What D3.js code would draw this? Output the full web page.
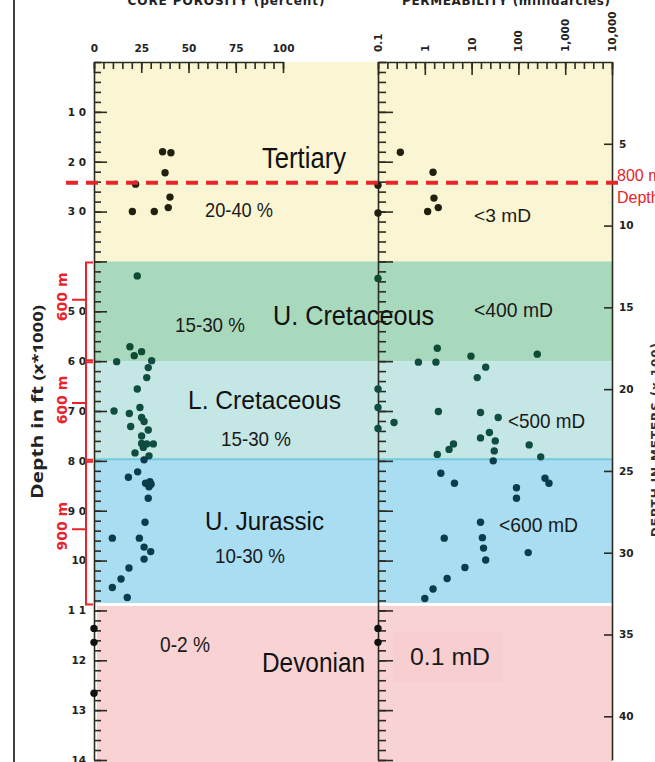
<!DOCTYPE html>
<html>
<head>
<meta charset="utf-8">
<script src="https://cdn.jsdelivr.net/npm/d3@7"></script>
<style>
html, body { margin: 0; padding: 0; background: #fff; }
svg { display: block; }
</style>
</head>
<body>
<svg width="655" height="762"></svg>
<script>
// formations, depth in ft x 1000
const formations = ["Tertiary", "U. Cretaceous", "L. Cretaceous", "U. Jurassic", "Devonian"];
const formationTop = [0, 4.0, 6.0, 7.97, 10.91];
const formationBase = [4.0, 6.0, 7.97, 10.85, 14.1];
const porosityRange = ["20-40 %", "15-30 %", "15-30 %", "10-30 %", "0-2 %"];
const permRange = ["<3 mD", "<400 mD", "<500 mD", "<600 mD", "0.1 mD"];

// core porosity (percent) vs depth (ft x 1000)
const porosity = [
  [36.3, 1.80], [40.7, 1.82], [37.6, 2.22], [22.0, 2.45], [40.2, 2.71], [39.3, 2.92], [20.3, 3.00], [31.9, 3.00],
  [22.9, 4.29], [19.0, 5.71], [25.2, 5.81], [21.3, 5.89], [12.0, 6.01], [30.5, 5.99], [28.7, 6.13], [27.9, 6.33],
  [22.9, 6.56], [10.6, 7.00], [18.7, 7.05], [24.3, 6.93], [25.2, 7.13], [26.5, 7.21], [19.4, 7.31], [28.7, 7.38],
  [25.2, 7.50], [25.2, 7.65], [27.9, 7.66], [31.4, 7.66], [26.1, 7.73], [21.7, 7.84], [29.1, 7.90], [26.5, 7.98],
  [23.1, 8.22], [18.2, 8.33], [27.3, 8.45], [29.6, 8.42], [29.1, 8.52], [30.2, 8.47], [28.7, 8.75], [27.0, 9.23],
  [9.7, 9.55], [24.0, 9.55], [26.5, 9.73], [30.0, 9.82], [26.5, 9.97], [18.5, 10.15], [14.3, 10.37], [9.7, 10.54],
  [17.6, 10.74],
  [0, 11.36], [0, 11.64], [0, 12.66]
];

// permeability (millidarcies) vs depth (ft x 1000)
const permeability = [
  [0.3, 1.81], [1.5, 2.21], [0.1, 2.47], [1.57, 2.73], [1.94, 2.92], [1.15, 3.00], [0.1, 3.03],
  [0.1, 4.34], [1.85, 5.74], [9.7, 5.90], [253, 5.86], [0.73, 6.02], [1.73, 6.02], [20, 6.12], [13.2, 6.33],
  [0.1, 6.56], [0.1, 6.93], [0.1, 7.35], [0.22, 7.23], [1.95, 7.01], [15.5, 7.03], [37, 7.13], [24, 7.43],
  [15.5, 7.54], [32, 7.60], [4.1, 7.66], [3.3, 7.77], [170, 7.68], [30.5, 7.80], [1.85, 7.87], [29, 8.00], [300, 7.92],
  [2.2, 8.25], [4.3, 8.45], [370, 8.35], [450, 8.45], [91, 8.54], [91, 8.75], [15.5, 9.23], [2.6, 9.55],
  [17, 9.54], [18, 9.75], [162, 9.84], [20, 9.99], [7.2, 10.14], [3.0, 10.36], [1.5, 10.57], [1.0, 10.76],
  [0.1, 11.36], [0.1, 11.64]
];

const depthTicks = [1, 2, 3, 4, 5, 6, 7, 8, 9, 10, 11, 12, 13, 14];
const depthTickLabels = ["1 0", "2 0", "3 0", "", "5 0", "6 0", "7 0", "8 0", "9 0", "10", "1 1", "12", "13", "14"];
const porosityTicks = [0, 25, 50, 75, 100];
const permTicks = [0.1, 1, 10, 100, 1000, 10000];
const permTickLabels = ["0.1", "1", "10", "100", "1,000", "10,000"];
const meterTicks = [5, 10, 15, 20, 25, 30, 35, 40];

// red depth marker and thickness brackets (ft x 1000)
const markerDepth = 2.42;
const markerLabel = ["800 m", "Depth"];
const bracketTop = [4.0, 6.0, 8.0];
const bracketBase = [6.0, 8.0, 10.9];
const bracketMid = [4.77, 6.84, 9.37];
const bracketLabel = ["600 m", "600 m", "900 m"];

const bandColor = ["#faf6d3", "#a8d9bd", "#c4e6e4", "#a8ddf2", "#f9d2d3"];
const dotColor = ["#20200f", "#0d4b32", "#0f4d40", "#0a3c4c", "#111111"];
const red = "#e8242a";
const narrow = "'Liberation Sans Narrow', 'Liberation Sans', Arial, sans-serif";

const svg = d3.select("svg");

const y = d3.scaleLinear().domain([0, 14]).range([62, 760]);
const yM = d3.scaleLinear().domain([0, 14 / 0.32808]).range([62, 760]);
const xPor = d3.scaleLinear().domain([0, 100]).range([94, 283]);
const xPerm = d3.scaleLog().domain([0.1, 10000]).range([378, 612]);

const formationOf = d => {
  for (let i = formations.length - 1; i >= 0; i--) if (d >= formationTop[i] - 0.03) return i;
  return 0;
};

// frame line at left
svg.append("line").attr("x1", 14).attr("x2", 14).attr("y1", 0).attr("y2", 762)
  .attr("stroke", "#000").attr("stroke-width", 1.5);

// bands
svg.append("g").selectAll("rect").data(formations).join("rect")
  .attr("x", (d, i) => i == 4 ? 97 : 94)
  .attr("width", (d, i) => i == 4 ? 612 - 97 : 612 - 94)
  .attr("y", (d, i) => y(formationTop[i]))
  .attr("height", (d, i) => y(formationBase[i]) - y(formationTop[i]))
  .attr("fill", (d, i) => bandColor[i]);

svg.append("line").attr("x1", 94).attr("x2", 612)
  .attr("y1", y(formationTop[3])).attr("y2", y(formationTop[3]))
  .attr("stroke", "#72cadd").attr("stroke-width", 2);

// faint box behind devonian permeability text
svg.append("rect").attr("x", 393).attr("y", 632).attr("width", 110).attr("height", 50)
  .attr("fill", "#f7cfd0");

// axes
const axisColor = "#2b2b22";
function styleAxis(g) {
  g.selectAll("path, line").attr("stroke", axisColor).attr("stroke-width", 1.6);
  g.selectAll("text").attr("fill", "#222").attr("font-family", "'DejaVu Sans', sans-serif")
    .attr("font-weight", "bold").attr("font-size", 10.5);
}

// left depth axis
const minorDepth = d3.range(0, 70.5, 1).map(v => v / 5);
svg.append("g").attr("transform", "translate(94,0)")
  .call(d3.axisRight(y).tickValues(minorDepth).tickSize(7).tickFormat("").tickSizeOuter(0))
  .call(styleAxis);
svg.append("g").attr("transform", "translate(94,0)")
  .call(d3.axisRight(y).tickValues(depthTicks).tickSize(13).tickFormat("").tickSizeOuter(0))
  .call(styleAxis).call(g => g.select(".domain").remove());
svg.append("g").attr("transform", "translate(94,0)")
  .call(d3.axisLeft(y).tickValues(depthTicks).tickSize(0).tickPadding(8)
    .tickFormat((d, i) => depthTickLabels[i]))
  .call(styleAxis).call(g => g.select(".domain").remove());

// middle axis (permeability panel left)
svg.append("g").attr("transform", "translate(378,0)")
  .call(d3.axisRight(y).tickValues(minorDepth).tickSize(8).tickFormat("").tickSizeOuter(0))
  .call(styleAxis);
svg.append("g").attr("transform", "translate(378,0)")
  .call(d3.axisRight(y).tickValues(depthTicks).tickSize(15).tickFormat("").tickSizeOuter(0))
  .call(styleAxis).call(g => g.select(".domain").remove());

// right meters axis
svg.append("g").attr("transform", "translate(612,0)")
  .call(d3.axisLeft(yM).tickValues(meterTicks).tickSize(8).tickFormat("").tickSizeOuter(0))
  .call(styleAxis);
svg.append("g").attr("transform", "translate(612,0)")
  .call(d3.axisRight(yM).tickValues(meterTicks).tickSize(0).tickPadding(7))
  .call(styleAxis).call(g => g.select(".domain").remove());

// porosity top axis
svg.append("g").attr("transform", "translate(0,62)")
  .call(d3.axisBottom(xPor).tickValues(d3.range(0, 101, 5)).tickSize(7).tickFormat("").tickSizeOuter(0))
  .call(styleAxis);
svg.append("g").attr("transform", "translate(0,62)")
  .call(d3.axisBottom(xPor).tickValues(porosityTicks).tickSize(11).tickFormat("").tickSizeOuter(0))
  .call(styleAxis).call(g => g.select(".domain").remove());
svg.append("g").attr("transform", "translate(0,62)")
  .call(d3.axisTop(xPor).tickValues(porosityTicks).tickSize(0).tickPadding(10))
  .call(styleAxis).call(g => g.select(".domain").remove());

// permeability top axis
const minorPerm = d3.range(-5, 21, 1).map(v => Math.pow(10, v / 5));
svg.append("g").attr("transform", "translate(0,62)")
  .call(d3.axisBottom(xPerm).tickValues(minorPerm).tickSize(7).tickFormat("").tickSizeOuter(0))
  .call(styleAxis);
svg.append("g").attr("transform", "translate(0,62)")
  .call(d3.axisBottom(xPerm).tickValues(permTicks).tickSize(13).tickFormat("").tickSizeOuter(0))
  .call(styleAxis).call(g => g.select(".domain").remove());
svg.append("g").selectAll("text").data(permTicks).join("text")
  .attr("transform", d => `translate(${xPerm(d) + 4},52) rotate(-90)`)
  .attr("text-anchor", "start")
  .attr("font-family", "'DejaVu Sans', sans-serif").attr("font-weight", "bold")
  .attr("font-size", 10.5).attr("fill", "#222")
  .text((d, i) => permTickLabels[i]);

// titles (cut at the top edge, as in the source)
svg.append("text").attr("x", 226).attr("y", 5).attr("text-anchor", "middle")
  .attr("font-family", "'DejaVu Sans', sans-serif").attr("font-weight", "bold").attr("font-size", 12)
  .attr("fill", "#222").attr("textLength", 197).text("CORE POROSITY (percent)");
svg.append("text").attr("x", 506).attr("y", 5).attr("text-anchor", "middle")
  .attr("font-family", "'DejaVu Sans', sans-serif").attr("font-weight", "bold").attr("font-size", 12)
  .attr("fill", "#222").attr("textLength", 208).text("PERMEABILITY (millidarcies)");

svg.append("text").attr("transform", "translate(660,440) rotate(-90)").attr("text-anchor", "middle")
  .attr("font-family", "'DejaVu Sans', sans-serif").attr("font-weight", "bold").attr("font-size", 12)
  .attr("fill", "#333").attr("textLength", 194).text("DEPTH IN METERS (x 100)");

// y title
const yt = svg.append("text").attr("transform", "translate(43,402) rotate(-90)")
  .attr("text-anchor", "middle").attr("font-family", "'Open Sans', 'Noto Sans', sans-serif")
  .attr("font-weight", "bold").attr("fill", "#222").attr("font-size", 16)
  .attr("textLength", 194).attr("lengthAdjust", "spacingAndGlyphs");
yt.append("tspan").text("Depth in ft ");
yt.append("tspan").attr("font-size", 14).text("(x*1000)");

// points
svg.append("g").selectAll("circle").data(porosity).join("circle")
  .attr("cx", d => xPor(d[0])).attr("cy", d => y(d[1])).attr("r", 3.7)
  .attr("fill", d => dotColor[formationOf(d[1])]);
svg.append("g").selectAll("circle").data(permeability).join("circle")
  .attr("cx", d => xPerm(d[0])).attr("cy", d => y(d[1])).attr("r", 3.7)
  .attr("fill", d => dotColor[formationOf(d[1])]);

// formation annotations
const nameLayout = [[304, 168, 29, 84], [353.5, 325, 27, 161], [264.5, 409, 26, 153], [264.5, 530, 26, 119], [313.5, 672, 27, 103]];
const porLayout = [[239, 217, 21, 68], [210, 332, 21, 70], [256, 446, 21, 70], [250, 563, 21, 70], [185, 652, 22, 50]];
const permLayout = [[502.5, 222, 19, 57], [513.5, 317, 21, 79], [546.5, 428, 21, 77], [538.5, 532, 21, 79], [450, 665, 23, 80]];

function annotate(texts, layout, color) {
  svg.append("g").selectAll("text").data(texts).join("text")
    .attr("x", (d, i) => layout[i][0]).attr("y", (d, i) => layout[i][1])
    .attr("font-size", (d, i) => layout[i][2])
    .attr("textLength", (d, i) => layout[i][3]).attr("lengthAdjust", "spacingAndGlyphs")
    .attr("text-anchor", "middle").attr("font-family", narrow).attr("fill", color)
    .text(d => d);
}
annotate(formations, nameLayout, "#111");
annotate(porosityRange, porLayout, "#1a1a1a");
annotate(permRange, permLayout, "#1a1a1a");

// red dashed depth line
svg.append("line").attr("x1", 61).attr("x2", 626).attr("y1", y(markerDepth)).attr("y2", y(markerDepth))
  .attr("stroke", red).attr("stroke-width", 4)
  .attr("stroke-dasharray", "12,8").attr("stroke-dashoffset", 15);
svg.append("g").selectAll("text").data(markerLabel).join("text")
  .attr("x", 617).attr("y", (d, i) => y(markerDepth) - 2 + i * 22)
  .attr("font-family", narrow).attr("font-size", 16).attr("fill", red).text(d => d);

// thickness brackets
const br = svg.append("g").attr("fill", "none").attr("stroke", red).attr("stroke-width", 2);
bracketTop.forEach((t, i) => {
  const y0 = y(t), y1 = y(bracketBase[i]), ym = y(bracketMid[i]);
  br.append("path").attr("d", `M93,${y0 + 1} H86 V${y1 - 1} H93 M86,${ym} H72`);
});
svg.append("g").selectAll("text").data(bracketLabel).join("text")
  .attr("transform", (d, i) => `translate(67,${y(bracketMid[i]) - 3}) rotate(-90)`)
  .attr("text-anchor", "middle").attr("font-family", "'DejaVu Sans', sans-serif")
  .attr("font-weight", "bold").attr("font-size", 14).attr("fill", red).text(d => d);
</script>
</body>
</html>
